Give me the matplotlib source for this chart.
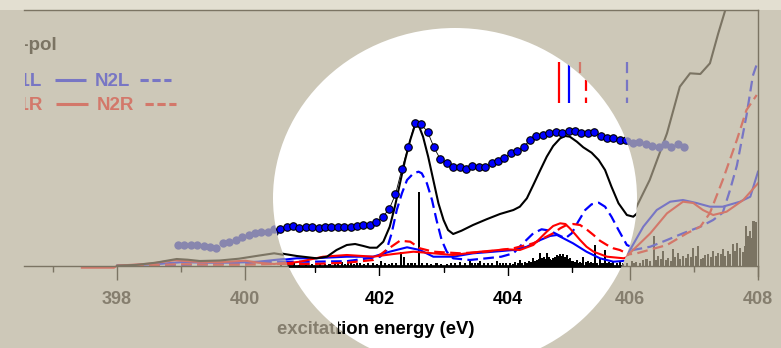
import matplotlib
matplotlib.use("Agg")
import matplotlib.pyplot as plt
from matplotlib.patches import Ellipse, Rectangle
from matplotlib.lines import Line2D
from matplotlib.transforms import Bbox, TransformedBbox

plt.rcParams['font.family'] = ['Liberation Sans', 'DejaVu Sans']
plt.rcParams['font.weight'] = 'bold'

# ---------------- data ----------------
# measured spectrum (excitation energy in eV, intensity in arb. units)
meas_energy = [398.95, 399.05, 399.15, 399.25, 399.35, 399.45, 399.55, 399.65, 399.75, 399.85,
               399.95, 400.05, 400.15, 400.25, 400.35, 400.45, 400.55, 400.65, 400.75, 400.85,
               400.95, 401.05, 401.15, 401.25, 401.35, 401.45, 401.55, 401.65, 401.75, 401.85,
               401.95, 402.05, 402.15, 402.25, 402.35, 402.45, 402.55, 402.65, 402.75, 402.85,
               402.95, 403.05, 403.15, 403.25, 403.35, 403.45, 403.55, 403.65, 403.75, 403.85,
               403.95, 404.05, 404.15, 404.25, 404.35, 404.45, 404.55, 404.65, 404.75, 404.85,
               404.95, 405.05, 405.15, 405.25, 405.35, 405.45, 405.55, 405.65, 405.75, 405.85,
               405.95, 406.05, 406.15, 406.25, 406.35, 406.45, 406.55, 406.65, 406.75, 406.85]
meas_intensity = [0.207, 0.207, 0.207, 0.207, 0.197, 0.187, 0.177, 0.227, 0.237, 0.257,
                  0.287, 0.307, 0.327, 0.337, 0.337, 0.372, 0.385, 0.397, 0.377, 0.387,
                  0.390, 0.374, 0.387, 0.387, 0.387, 0.387, 0.390, 0.400, 0.407, 0.407,
                  0.434, 0.490, 0.564, 0.714, 0.967, 1.190, 1.424, 1.414, 1.340, 1.184,
                  1.064, 1.030, 0.990, 0.984, 0.970, 0.997, 0.990, 0.984, 1.024, 1.050,
                  1.074, 1.124, 1.150, 1.190, 1.257, 1.297, 1.307, 1.324, 1.340, 1.324,
                  1.350, 1.350, 1.330, 1.330, 1.340, 1.300, 1.280, 1.274, 1.257, 1.257,
                  1.247, 1.227, 1.237, 1.217, 1.197, 1.187, 1.217, 1.187, 1.217, 1.187]

# calculated total spectrum
total_energy = [398.00, 398.30, 398.60, 398.93, 399.10, 399.29, 399.60, 399.90, 400.20, 400.45,
                400.71, 401.02, 401.18, 401.33, 401.49, 401.62, 401.75, 401.85, 401.96, 402.06,
                402.16, 402.24, 402.32, 402.40, 402.48, 402.55, 402.62, 402.68, 402.76, 402.84,
                402.92, 403.00, 403.07, 403.15, 403.28, 403.46, 403.67, 403.88, 404.09, 404.19,
                404.30, 404.40, 404.51, 404.61, 404.71, 404.82, 404.90, 404.97, 405.08, 405.18,
                405.31, 405.42, 405.52, 405.62, 405.73, 405.86, 405.96, 406.08, 406.31, 406.58,
                406.78, 406.94, 407.10, 407.25, 407.38, 407.49, 407.60, 407.80]
total_intensity = [0.000, 0.008, 0.030, 0.067, 0.060, 0.047, 0.052, 0.070, 0.100, 0.124,
                   0.097, 0.074, 0.090, 0.157, 0.207, 0.217, 0.197, 0.180, 0.180, 0.240,
                   0.390, 0.590, 0.824, 1.057, 1.257, 1.397, 1.390, 1.290, 1.090, 0.857,
                   0.624, 0.457, 0.357, 0.317, 0.350, 0.407, 0.464, 0.517, 0.557, 0.590,
                   0.674, 0.807, 0.957, 1.090, 1.197, 1.274, 1.297, 1.290, 1.240, 1.184,
                   1.130, 1.057, 0.957, 0.790, 0.624, 0.507, 0.490, 0.557, 0.857, 1.324,
                   1.790, 1.924, 1.917, 2.024, 2.324, 2.557, 2.850, 3.400]

# N1L (solid blue)
n1l_energy = [398.00, 398.60, 399.00, 399.40, 399.80, 400.20, 400.45, 400.71, 400.96, 401.49,
              401.90, 402.16, 402.43, 402.63, 402.84, 403.15, 403.46, 403.78, 404.09, 404.30,
              404.51, 404.66, 404.77, 404.87, 405.02, 405.23, 405.44, 405.65, 405.86, 405.97,
              406.21, 406.42, 406.63, 406.83, 407.04, 407.25, 407.45, 407.72, 407.88, 408.00]
n1l_intensity = [0.000, 0.015, 0.035, 0.030, 0.030, 0.040, 0.057, 0.074, 0.074, 0.090,
                 0.090, 0.140, 0.184, 0.157, 0.090, 0.090, 0.124, 0.140, 0.157, 0.190,
                 0.257, 0.297, 0.307, 0.274, 0.224, 0.140, 0.074, 0.040, 0.050, 0.120,
                 0.390, 0.557, 0.640, 0.657, 0.627, 0.590, 0.590, 0.640, 0.690, 0.940]

# N2L (dashed blue)
n2l_energy = [398.00, 398.60, 399.20, 399.80, 400.45, 400.96, 401.49, 402.01, 402.11, 402.19,
              402.27, 402.35, 402.43, 402.53, 402.61, 402.66, 402.74, 402.82, 402.89, 402.97,
              403.05, 403.15, 403.41, 403.67, 403.90, 404.09, 404.24, 404.40, 404.53, 404.66,
              404.79, 404.90, 405.00, 405.10, 405.21, 405.31, 405.42, 405.52, 405.62, 405.73,
              405.86, 406.05, 406.32, 406.58, 406.83, 407.10, 407.30, 407.45, 407.56, 407.67,
              407.82, 407.92, 408.00]
n2l_intensity = [0.000, 0.005, 0.010, 0.020, 0.040, 0.040, 0.045, 0.090, 0.157, 0.324,
                 0.557, 0.724, 0.857, 0.924, 0.940, 0.924, 0.824, 0.657, 0.457, 0.257,
                 0.140, 0.074, 0.057, 0.074, 0.090, 0.124, 0.224, 0.324, 0.364, 0.350,
                 0.307, 0.274, 0.324, 0.440, 0.557, 0.614, 0.630, 0.590, 0.490, 0.357,
                 0.207, 0.157, 0.190, 0.257, 0.324, 0.390, 0.457, 0.530, 0.750, 1.000,
                 1.500, 1.900, 2.050]

# N1R (solid red)
n1r_energy = [397.45, 397.95, 398.00, 398.50, 398.90, 399.20, 399.60, 400.00, 400.20, 400.45,
              400.76, 401.12, 401.49, 401.90, 402.22, 402.53, 402.84, 403.15, 403.57, 403.98,
              404.19, 404.40, 404.61, 404.71, 404.82, 404.90, 404.97, 405.05, 405.13, 405.23,
              405.34, 405.55, 405.81, 405.97, 406.32, 406.58, 406.83, 406.99, 407.14, 407.30,
              407.51, 407.77, 408.00]
n1r_intensity = [-0.020, -0.020, 0.000, 0.020, 0.055, 0.040, 0.035, 0.050, 0.030, 0.017,
                 0.040, 0.090, 0.107, 0.090, 0.117, 0.140, 0.124, 0.107, 0.140, 0.164,
                 0.157, 0.207, 0.340, 0.397, 0.424, 0.417, 0.374, 0.317, 0.257, 0.190,
                 0.140, 0.090, 0.074, 0.107, 0.324, 0.524, 0.640, 0.627, 0.557, 0.507,
                 0.540, 0.657, 0.824]

# N2R (dashed red)
n2r_energy = [398.00, 398.50, 399.00, 399.50, 400.00, 400.45, 400.96, 401.49, 401.90, 402.11,
              402.32, 402.48, 402.63, 402.84, 403.26, 403.67, 404.09, 404.40, 404.71, 404.82,
              404.92, 405.02, 405.13, 405.23, 405.34, 405.44, 405.55, 405.65, 405.75, 405.91,
              406.11, 406.58, 406.89, 407.10, 407.25, 407.45, 407.67, 407.82, 407.98]
n2r_intensity = [0.000, 0.005, 0.015, 0.010, 0.010, 0.017, 0.017, 0.030, 0.057, 0.157,
                 0.250, 0.240, 0.174, 0.140, 0.124, 0.140, 0.174, 0.224, 0.324, 0.374,
                 0.407, 0.417, 0.407, 0.364, 0.307, 0.250, 0.207, 0.174, 0.157, 0.107,
                 0.124, 0.207, 0.324, 0.390, 0.527, 0.857, 1.257, 1.557, 1.707]

# transition strengths (stick spectrum)
stick_energy = [400.56, 400.66, 400.75, 400.85, 400.95, 401.07, 401.15, 401.22, 401.30, 401.36,
                401.41, 401.46, 401.51, 401.56, 401.60, 401.65, 401.70, 401.76, 401.82, 401.90,
                401.96, 402.03, 402.09, 402.15, 402.20, 402.26, 402.33, 402.38, 402.44, 402.50,
                402.56, 402.61, 402.67, 402.74, 402.80, 402.89, 402.96, 403.05, 403.11, 403.18,
                403.26, 403.34, 403.41, 403.45, 403.49, 403.53, 403.57, 403.63, 403.70, 403.76,
                403.83, 403.88, 403.93, 403.98, 404.04, 404.08, 404.12, 404.16, 404.19, 404.23,
                404.27, 404.30, 404.33, 404.36, 404.40, 404.43, 404.46, 404.49, 404.51, 404.54,
                404.56, 404.59, 404.61, 404.64, 404.66, 404.69, 404.71, 404.74, 404.77, 404.80,
                404.82, 404.85, 404.87, 404.90, 404.92, 404.95, 404.97, 405.00, 405.02, 405.05,
                405.08, 405.11, 405.13, 405.16, 405.18, 405.22, 405.25, 405.28, 405.30, 405.33,
                405.36, 405.40, 405.44, 405.48, 405.52, 405.55, 405.58, 405.62, 405.65, 405.70,
                405.75, 405.80, 405.85, 405.90, 405.95,
                406.03, 406.07, 406.10, 406.16, 406.21, 406.26, 406.31, 406.37, 406.41, 406.44,
                406.48, 406.52, 406.56, 406.60, 406.64, 406.67, 406.71, 406.75, 406.79, 406.83,
                406.87, 406.91, 406.95, 406.99, 407.03, 407.07, 407.11, 407.14, 407.18, 407.22,
                407.26, 407.30, 407.34, 407.38, 407.42, 407.45, 407.49, 407.53, 407.57, 407.61,
                407.64, 407.67, 407.72, 407.77, 407.80, 407.82, 407.85, 407.88, 407.91, 407.93,
                407.97]
stick_strength = [0.020, 0.030, 0.010, 0.020, 0.015, 0.030, 0.015, 0.020, 0.020, 0.025,
                  0.040, 0.020, 0.060, 0.030, 0.020, 0.025, 0.030, 0.020, 0.025, 0.030,
                  0.020, 0.050, 0.025, 0.020, 0.030, 0.025, 0.140, 0.090, 0.030, 0.025,
                  0.030, 0.740, 0.030, 0.030, 0.020, 0.030, 0.020, 0.020, 0.025, 0.030,
                  0.040, 0.030, 0.070, 0.030, 0.030, 0.025, 0.050, 0.030, 0.030, 0.025,
                  0.050, 0.030, 0.030, 0.025, 0.030, 0.020, 0.040, 0.030, 0.060, 0.030,
                  0.040, 0.030, 0.050, 0.040, 0.080, 0.050, 0.060, 0.070, 0.130, 0.080,
                  0.090, 0.070, 0.130, 0.090, 0.070, 0.060, 0.080, 0.090, 0.110, 0.100,
                  0.120, 0.100, 0.120, 0.090, 0.110, 0.070, 0.080, 0.050, 0.050, 0.040,
                  0.060, 0.030, 0.040, 0.030, 0.090, 0.040, 0.050, 0.030, 0.040, 0.030,
                  0.210, 0.030, 0.080, 0.030, 0.160, 0.030, 0.040, 0.030, 0.050, 0.030,
                  0.040, 0.025, 0.030, 0.020, 0.030,
                  0.050, 0.030, 0.040, 0.030, 0.060, 0.070, 0.050, 0.300, 0.060, 0.100,
                  0.070, 0.150, 0.060, 0.080, 0.050, 0.170, 0.090, 0.130, 0.070, 0.100,
                  0.080, 0.120, 0.090, 0.180, 0.100, 0.200, 0.070, 0.080, 0.110, 0.120,
                  0.090, 0.150, 0.100, 0.130, 0.120, 0.170, 0.100, 0.150, 0.120, 0.220,
                  0.150, 0.230, 0.180, 0.140, 0.200, 0.400, 0.300, 0.350, 0.280, 0.450,
                  0.440]

# ionisation thresholds: energy, colour key, dashed?
threshold_energy = [404.80, 404.96, 405.22, 405.95]
threshold_color = ['r', 'b', 'r', 'b']
threshold_dashed = [False, False, True, True]
threshold_span = (1.63, 2.04)

major_ticks = [398, 400, 402, 404, 406, 408]
minor_ticks = [397, 399, 401, 403, 405, 407]
tick_labels = ['398', '400', '402', '404', '406', '408']
lens_tick_labels = ['402', '404']

# ---------------- styling ----------------
W, H = 781, 348
BEIGE = '#cdc8b8'
STRIP = '#e3dfd1'
VIVID = {'k': 'black', 'b': '#0000ff', 'r': '#ff0000', 'dot': '#0000ff', 'text': 'black'}
MUTED = {'k': '#7b7463', 'b': '#7876c4', 'r': '#d3786a', 'dot': '#8886ae', 'text': '#857e6e'}

XL, XR = 396.547, 408.0
YMIN, YMAX = -0.10, 2.557
AX_LEFT, AX_RIGHT, AX_TOP, AX_BOTTOM = 24, 758, 10, 275.7
SHIFT = 6  # magnified inset is offset by a few pixels

fig = plt.figure(figsize=(W / 100, H / 100), dpi=100, facecolor=BEIGE)
fig.add_artist(Rectangle((0, 1 - AX_TOP / H), 1, AX_TOP / H, transform=fig.transFigure,
                         facecolor=STRIP, edgecolor='none', zorder=-5))


def make_axes(dx):
    return fig.add_axes([(AX_LEFT + dx) / W, 1 - AX_BOTTOM / H,
                         (AX_RIGHT - AX_LEFT) / W, (AX_BOTTOM - AX_TOP) / H])


def px_clipbox(x0, x1):
    return TransformedBbox(Bbox([[x0 / W, 0], [x1 / W, 1]]), fig.transFigure)


ax_bg = make_axes(0)
ax_fg = make_axes(SHIFT)
ax_bg.set_facecolor('none')
ax_fg.set_facecolor('none')


def draw_content(ax, pal, vivid):
    arts = []
    bars = ax.bar(stick_energy, stick_strength, width=0.032, color=pal['k'],
                  linewidth=0, zorder=1)
    arts += list(bars.patches)
    dash = (0, (4.8, 2.4))
    arts += ax.plot(n1l_energy, n1l_intensity, color=pal['b'], lw=1.5, zorder=2)
    arts += ax.plot(n2l_energy, n2l_intensity, color=pal['b'], lw=1.6, ls=dash, zorder=2)
    arts += ax.plot(n1r_energy, n1r_intensity, color=pal['r'], lw=1.5, zorder=2.2)
    arts += ax.plot(n2r_energy, n2r_intensity, color=pal['r'], lw=1.6, ls=dash, zorder=2.2)
    arts += ax.plot(total_energy, total_intensity, color=pal['k'], lw=1.5, zorder=3)
    for e, c, d in zip(threshold_energy, threshold_color, threshold_dashed):
        arts += ax.plot([e, e], [threshold_span[1], threshold_span[0]], color=pal[c],
                        lw=1.6, ls=(0, (5, 3)) if d else '-', zorder=3,
                        solid_capstyle='butt', dash_capstyle='butt')
    if vivid:
        arts += ax.plot(meas_energy, meas_intensity, color='black', lw=0.6, zorder=4)
        arts += ax.plot(meas_energy, meas_intensity, ls='none', marker='o', ms=5.4,
                        mfc=pal['dot'], mec='black', mew=0.8, zorder=5)
    else:
        arts += ax.plot(meas_energy, meas_intensity, ls='none', marker='o', ms=6.0,
                        mfc=pal['dot'], mec=pal['dot'], mew=0, zorder=5)
    return arts


def style_axes(ax, pal, spine_lw):
    ax.set_xlim(XL, XR)
    ax.set_ylim(YMIN, YMAX)
    ax.set_yticks([])
    ax.set_xticks(major_ticks)
    ax.set_xticks(minor_ticks, minor=True)
    ax.set_xticklabels(tick_labels)
    ax.spines['bottom'].set_position(('data', 0))
    ax.spines['left'].set_visible(False)
    for s in ('top', 'right', 'bottom'):
        ax.spines[s].set_color(pal['k'])
        ax.spines[s].set_linewidth(spine_lw)
    ax.tick_params(axis='x', which='major', direction='out', length=10, width=1.0,
                   color=pal['k'], labelcolor=pal['text'], labelsize=13, pad=8.5)
    ax.tick_params(axis='x', which='minor', direction='out', length=4.5, width=1.0,
                   color=pal['k'])
    for lab in ax.get_xticklabels():
        lab.set_fontweight('bold')
    ax.set_xlabel('excitation energy (eV)', fontsize=13.3, fontweight='bold', color=pal['text'])


draw_content(ax_bg, MUTED, False)
style_axes(ax_bg, MUTED, 1.0)
ax_bg.xaxis.set_label_coords(372.5 / W, 1 - 321 / H, transform=fig.transFigure)
# labels under the lens are drawn by the lens axes instead
for t, lab in zip(ax_bg.xaxis.get_major_ticks(), tick_labels):
    t.label1.set_visible(lab not in lens_tick_labels)

# white lens over the middle of the spectrum
lens_kw = dict(xy=(455 / W, 1 - 198 / H), width=364 / W, height=340 / H,
               transform=fig.transFigure)
lens = Ellipse(facecolor='white', edgecolor='none', zorder=-10, **lens_kw)
ax_fg.add_artist(lens)
lens.set_clip_on(False)
clip = Ellipse(facecolor='none', edgecolor='none', **lens_kw)

fg_arts = draw_content(ax_fg, VIVID, True)
style_axes(ax_fg, VIVID, 2.0)
ax_fg.spines['top'].set_visible(False)
ax_fg.spines['right'].set_visible(False)
ax_fg.xaxis.set_label_coords((372.5 + SHIFT) / W, 1 - 321 / H, transform=fig.transFigure)

for a in fg_arts:
    a.set_clip_path(clip)
for s in ax_fg.spines.values():
    s.set_clip_path(clip)
for t, lab in zip(ax_fg.xaxis.get_major_ticks(), tick_labels):
    t.tick1line.set_clip_path(clip)
    t.label1.set_visible(lab in lens_tick_labels)
for t in ax_fg.xaxis.get_minor_ticks():
    t.tick1line.set_clip_path(clip)
# the lens edge crosses the axis title near "excitat|ion"
ax_fg.xaxis.label.set_clip_box(px_clipbox(338, W))
ax_fg.xaxis.label.set_clip_on(True)

# legend (left margin, cut off by the panel edge)
legend_clip = px_clipbox(24.5, W)


def ftxt(x, y, s, color, ha='left'):
    t = fig.text(x / W, 1 - y / H, s, color=color, fontsize=13.5, fontweight='bold',
                 ha=ha, va='baseline')
    t.set_clip_box(legend_clip)
    t.set_clip_on(True)


def fline(x0, x1, y, color, dashed=False):
    fig.add_artist(Line2D([x0 / W, x1 / W], [1 - y / H, 1 - y / H], transform=fig.transFigure,
                          color=color, lw=2.2, ls=(0, (2.7, 1.2)) if dashed else '-',
                          solid_capstyle='butt', dash_capstyle='butt'))


ftxt(58, 50, 'p-pol', MUTED['k'], ha='right')
ftxt(42.5, 86, 'N1L', MUTED['b'], ha='right')
fline(55, 86, 80, MUTED['b'])
ftxt(95, 86, 'N2L', MUTED['b'])
fline(140, 171, 80, MUTED['b'], dashed=True)
ftxt(43.5, 110, 'N1R', MUTED['r'], ha='right')
fline(56, 88, 104, MUTED['r'])
ftxt(97, 110, 'N2R', MUTED['r'])
fline(145, 176, 104, MUTED['r'], dashed=True)

fig.savefig('out.png', dpi=100, facecolor=BEIGE)
